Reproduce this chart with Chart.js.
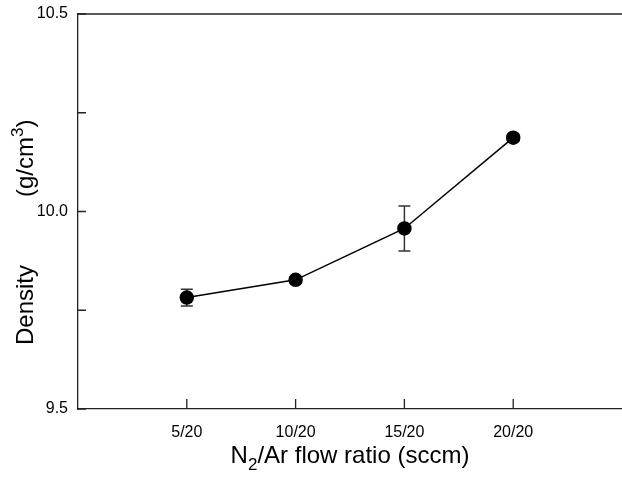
<!DOCTYPE html>
<html>
<head>
<meta charset="utf-8">
<script src="https://cdn.jsdelivr.net/npm/chart.js@4"></script>
<style>
  body { margin: 0; background: #fff; }
  #wrap { width: 622px; height: 477px; }
</style>
</head>
<body>
<div id="wrap"><canvas id="density-chart" width="622" height="477"></canvas></div>
<script>
// Data
const categories = ["5/20", "10/20", "15/20", "20/20"];
const density = [9.782, 9.827, 9.957, 10.187];
const densityErr = [0.021, 0.006, 0.057, 0.010];
const yTicks = [9.5, 9.75, 10.0, 10.25, 10.5];
const yLabeled = [9.5, 10.0, 10.5];

const FONT = "'Liberation Sans', Arial, sans-serif";
const INK = "#222";

const points = categories.map((c, i) => ({ x: i + 1, y: density[i] }));

// Extra drawing: top frame line, inward ticks, error bars, axis titles
const decorations = {
  id: "decorations",
  beforeDatasetsDraw(chart) {
    const { ctx, scales } = chart;
    const x = scales.x, y = scales.y;
    ctx.save();
    ctx.strokeStyle = "#333";
    ctx.lineWidth = 1.5;
    points.forEach((p, i) => {
      const px = x.getPixelForValue(p.x);
      const top = y.getPixelForValue(p.y + densityErr[i]);
      const bot = y.getPixelForValue(p.y - densityErr[i]);
      ctx.beginPath();
      ctx.moveTo(px, top); ctx.lineTo(px, bot);
      ctx.moveTo(px - 6, top); ctx.lineTo(px + 6, top);
      ctx.moveTo(px - 6, bot); ctx.lineTo(px + 6, bot);
      ctx.stroke();
    });
    ctx.restore();
  },
  afterDraw(chart) {
    const { ctx, chartArea, scales } = chart;
    const x = scales.x, y = scales.y;
    ctx.save();
    ctx.strokeStyle = INK;
    ctx.lineWidth = 1.3;
    // top frame line
    ctx.beginPath();
    ctx.moveTo(chartArea.left, chartArea.top);
    ctx.lineTo(chartArea.right, chartArea.top);
    ctx.stroke();
    // inward ticks
    ctx.beginPath();
    yTicks.forEach((v) => {
      const py = y.getPixelForValue(v);
      ctx.moveTo(chartArea.left, py);
      ctx.lineTo(chartArea.left + 8, py);
    });
    categories.forEach((c, i) => {
      const px = x.getPixelForValue(i + 1);
      ctx.moveTo(px, chartArea.bottom);
      ctx.lineTo(px, chartArea.bottom - 10);
    });
    ctx.stroke();

    ctx.fillStyle = "#000";
    ctx.textBaseline = "alphabetic";
    // x title: N2/Ar flow ratio (sccm)
    const big = "24px " + FONT, small = "17px " + FONT;
    ctx.font = big;
    const wN = ctx.measureText("N").width;
    const rest = "/Ar flow ratio (sccm)";
    const wRest = ctx.measureText(rest).width;
    ctx.font = small;
    const w2 = ctx.measureText("2").width;
    const cx = (chartArea.left + chartArea.right) / 2;
    let sx = cx - (wN + w2 + wRest) / 2;
    const base = 463;
    ctx.font = big;
    ctx.textAlign = "left";
    ctx.fillText("N", sx, base);
    ctx.font = small;
    ctx.fillText("2", sx + wN, base + 7);
    ctx.font = big;
    ctx.fillText(rest, sx + wN + w2, base);

    // y title: Density   (g/cm3)
    ctx.translate(33, 0);
    ctx.rotate(-Math.PI / 2);
    ctx.font = big;
    ctx.fillText("Density", -345, 0);
    const start = -197;
    const wA = ctx.measureText("(g/cm").width;
    ctx.fillText("(g/cm", start, 0);
    ctx.font = small;
    ctx.fillText("3", start + wA, -10);
    const w3 = ctx.measureText("3").width;
    ctx.font = big;
    ctx.fillText(")", start + wA + w3, 0);
    ctx.restore();
  },
};

const ctx = document.getElementById("density-chart");
new Chart(ctx, {
  type: "scatter",
  data: {
    datasets: [
      {
        label: "Density",
        data: points,
        showLine: true,
        borderColor: "#000",
        borderWidth: 1.5,
        backgroundColor: "#000",
        pointBackgroundColor: "#000",
        pointBorderColor: "#000",
        pointRadius: 6.5,
        tension: 0,
      },
    ],
  },
  options: {
    responsive: false,
    animation: false,
    events: [],
    layout: {
      autoPadding: false,
      padding: { top: 14, right: 0, left: 0, bottom: 0 },
    },
    plugins: {
      legend: { display: false },
      tooltip: { enabled: false },
    },
    scales: {
      x: {
        type: "linear",
        min: 0,
        max: 5,
        afterFit: (s) => {
          s.height = 68;
          s.paddingLeft = 0;
          s.paddingRight = 0;
        },
        afterBuildTicks: (s) => {
          s.ticks = categories.map((c, i) => ({ value: i + 1 }));
        },
        grid: { display: false, drawTicks: false },
        border: { display: true, color: INK, width: 1.3 },
        ticks: {
          padding: 14,
          color: "#000",
          font: { family: FONT, size: 16 },
          callback: (v) => categories[v - 1] || "",
        },
      },
      y: {
        min: 9.5,
        max: 10.5,
        afterFit: (s) => {
          s.width = 78;
          s.paddingTop = 0;
          s.paddingBottom = 0;
        },
        afterBuildTicks: (s) => {
          s.ticks = yTicks.map((v) => ({ value: v }));
        },
        grid: { display: false, drawTicks: false },
        border: { display: true, color: INK, width: 1.3 },
        ticks: {
          padding: 10,
          color: "#000",
          font: { family: FONT, size: 16 },
          callback: (v) => (yLabeled.includes(v) ? v.toFixed(1) : ""),
        },
      },
    },
  },
  plugins: [decorations],
});
</script>
</body>
</html>
